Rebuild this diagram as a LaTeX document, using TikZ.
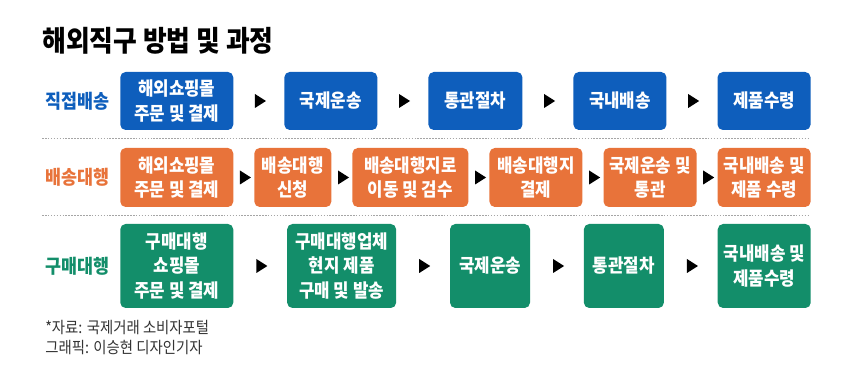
\documentclass[tikz,border=0pt]{standalone}
\usepackage{fontspec}
\setmainfont{Noto Sans CJK KR}[FakeStretch=0.9]
\usetikzlibrary{shapes.geometric, positioning, calc}
\definecolor{directblue}{RGB}{14,94,188}
\definecolor{fwdorange}{RGB}{232,115,58}
\definecolor{buygreen}{RGB}{19,142,106}
\definecolor{notegray}{RGB}{51,51,51}
\definecolor{sepgray}{RGB}{165,165,165}

\begin{document}
\begin{tikzpicture}[
  x=0.75pt, y=-0.75pt,
  stage/.style={
    rectangle, rounded corners=4pt, inner sep=2pt,
    text=white, align=center,
    font=\fontsize{14}{18.5}\selectfont\bfseries},
  dstage/.style={stage, fill=directblue, minimum height=43.5pt},
  fstage/.style={stage, fill=fwdorange, minimum height=44.25pt},
  bstage/.style={stage, fill=buygreen, minimum height=63pt},
  tri/.style={
    isosceles triangle, isosceles triangle stretches,
    fill=black, inner sep=0pt,
    minimum width=10.5pt, minimum height=8.25pt},
  rowlbl/.style={font=\fontsize{14.5}{16}\selectfont\bfseries, inner sep=0pt},
  sep/.style={sepgray, line width=0.7pt, dash pattern=on 1.2pt off 1pt},
  note/.style={font=\fontsize{12}{13}\selectfont, text=notegray,
    inner sep=0pt, anchor=west}
]
  \useasboundingbox (0,0) rectangle (841,373);
  % Title
  \node[anchor=west, inner sep=0pt, font=\fontsize{21.5}{24}\selectfont\bfseries]
    (title) at (42,41) {해외직구 방법 및 과정};
  % Direct
  \node[dstage, anchor=west, minimum width=84.75pt] (D1) at (120,101)
    {해외쇼핑몰\\주문 및 결제};
  \node[dstage, right=37.9pt of D1, minimum width=69.75pt] (D2) {국제운송};
  \node[dstage, right=37.9pt of D2, minimum width=70.5pt] (D3) {통관절차};
  \node[dstage, right=37.9pt of D3, minimum width=69.75pt] (D4) {국내배송};
  \node[dstage, right=37.9pt of D4, minimum width=69.75pt] (D5) {제품수령};
  \node[rowlbl, text=directblue, left=7.5pt of D1] (Dlbl) {직접배송};
  % Forwarding
  \node[fstage, anchor=west, minimum width=84.75pt] (F1) at (120,177.5)
    {해외쇼핑몰\\주문 및 결제};
  \node[fstage, right=15.4pt of F1, minimum width=57.75pt] (F2)
    {배송대행\\신청};
  \node[fstage, right=15.4pt of F2, minimum width=87pt] (F3)
    {배송대행지로\\이동 및 검수};
  \node[fstage, right=15.4pt of F3, minimum width=69.75pt] (F4)
    {배송대행지\\결제};
  \node[fstage, right=15.4pt of F4, minimum width=69.75pt] (F5)
    {국제운송 및\\통관};
  \node[fstage, right=15.4pt of F5, minimum width=69.75pt] (F6)
    {국내배송 및\\제품 수령};
  \node[rowlbl, text=fwdorange, left=7.5pt of F1] (Flbl) {배송대행};
  % Purchase agent
  \node[bstage, anchor=west, minimum width=84.75pt] (B1) at (120,266)
    {구매대행\\쇼핑몰\\주문 및 결제};
  \node[bstage, right=40pt of B1, minimum width=81.75pt] (B2)
    {구매대행업체\\현지 제품\\구매 및 발송};
  \node[bstage, right=40pt of B2, minimum width=60pt] (B3) {국제운송};
  \node[bstage, right=40pt of B3, minimum width=60pt] (B4) {통관절차};
  \node[bstage, right=40pt of B4, minimum width=69.75pt] (B5)
    {국내배송 및\\제품수령};
  \node[rowlbl, text=buygreen, left=7.5pt of B1] (Blbl) {구매대행};
  % Arrows
  \node[tri] (DT1) at ($(D1.east)!0.5!(D2.west)$) {};
  \node[tri] (DT2) at ($(D2.east)!0.5!(D3.west)$) {};
  \node[tri] (DT3) at ($(D3.east)!0.5!(D4.west)$) {};
  \node[tri] (DT4) at ($(D4.east)!0.5!(D5.west)$) {};
  \node[tri] (FT1) at ($(F1.east)!0.5!(F2.west)$) {};
  \node[tri] (FT2) at ($(F2.east)!0.5!(F3.west)$) {};
  \node[tri] (FT3) at ($(F3.east)!0.5!(F4.west)$) {};
  \node[tri] (FT4) at ($(F4.east)!0.5!(F5.west)$) {};
  \node[tri] (FT5) at ($(F5.east)!0.5!(F6.west)$) {};
  \node[tri] (BT1) at ($(B1.east)!0.5!(B2.west)$) {};
  \node[tri] (BT2) at ($(B2.east)!0.5!(B3.west)$) {};
  \node[tri] (BT3) at ($(B3.east)!0.5!(B4.west)$) {};
  \node[tri] (BT4) at ($(B4.east)!0.5!(B5.west)$) {};
  % Separators
  \draw[sep] (42,138.5) -- (808,138.5);
  \draw[sep] (42,215.5) -- (808,215.5);
  % Note
  \node[note] (src) at (45,328) {*자료: 국제거래 소비자포털};
  \node[note] (gfx) at (45,348) {그래픽: 이승현 디자인기자};
\end{tikzpicture}
\end{document}
